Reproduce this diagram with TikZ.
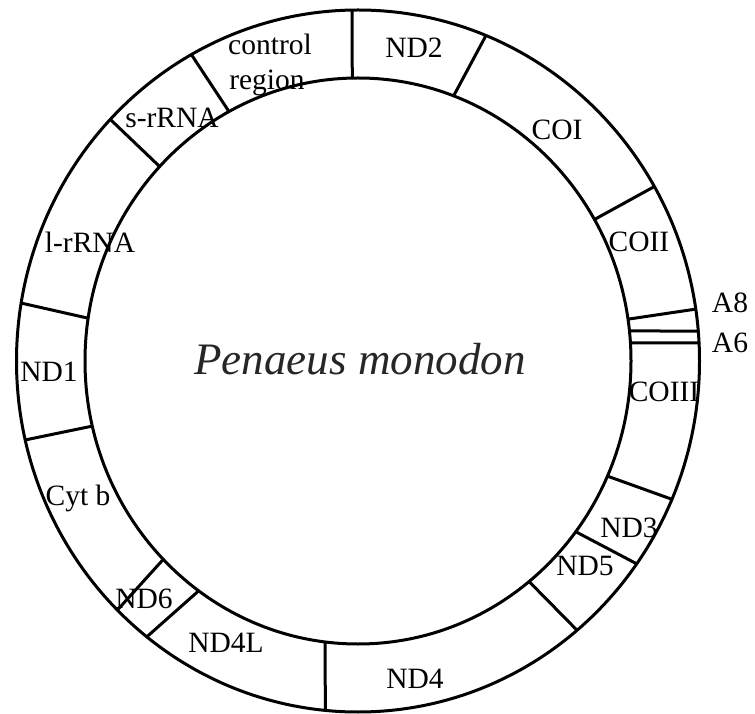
\documentclass[tikz,border=0pt]{standalone}
\usepackage{fontspec}
\setmainfont{Liberation Serif}
\usetikzlibrary{calc}
\begin{document}
\begin{tikzpicture}[x=1pt,y=1pt,
  ring/.style={line width=3pt, black},
  tick/.style={line width=3pt, black},
  lbl/.style={anchor=base, inner sep=0pt, font=\fontsize{29.5}{32}\selectfont},
  species/.style={anchor=base, inner sep=0pt, font=\fontsize{45}{50}\selectfont\itshape, text=black!85}
]
\useasboundingbox (0,0) rectangle (755,713);
\coordinate (c) at (358,352);
% rings
\draw[ring] (c) ellipse [x radius=341.5pt, y radius=351pt];
\draw[ring] (c) ellipse [x radius=273pt, y radius=283pt];
% boundaries: outer angle / inner angle
\foreach \name/\ao/\ai in {b1/91/91.2, b2/68/69.5, b3/29.8/30, b4/8.5/8.5,
  b5/4.9/6.09, b6/2.94/3.65, b7/-23.2/-24, b8/-35.3/-37.1, b9/-50.1/-51.2,
  b10/-95.5/-96.9, b11/-128.2/-125.7, b12/-134.8/-135.5, b13/-167/-166.7,
  b14/170.5/171.3, b15/136.5/136.6, b16/119.2/118.2}{
  \coordinate (\name o) at ($(c)+(\ao:341.5pt and 351pt)$);
  \coordinate (\name i) at ($(c)+(\ai:273pt and 283pt)$);
  \draw[tick] (\name o) -- (\name i);
}
% labels
\node[lbl] (control) at (270,{713-55}) {control};
\node[lbl] (region) at (267,{713-90}) {region};
\node[lbl] (nd2) at (414,{713-58}) {ND2};
\node[lbl] (coi) at (557,{713-140}) {COI};
\node[lbl] (coii) at (639,{713-252}) {COII};
\node[lbl] (a8) at (730,{713-313}) {A8};
\node[lbl] (a6) at (730,{713-353}) {A6};
\node[lbl] (coiii) at (664,{713-402}) {COIII};
\node[lbl] (nd3) at (629,{713-537}) {ND3};
\node[lbl] (nd5) at (585,{713-575}) {ND5};
\node[lbl] (nd4) at (415,{713-688}) {ND4};
\node[lbl] (nd4l) at (226,{713-652}) {ND4L};
\node[lbl] (nd6) at (144,{713-608}) {ND6};
\node[lbl] (cytb) at (78,{713-505}) {Cyt b};
\node[lbl] (nd1) at (49,{713-382}) {ND1};
\node[lbl] (lrrna) at (90,{713-253}) {l-rRNA};
\node[lbl] (srrna) at (172,{713-128}) {s-rRNA};
\node[species] (sp) at (360,{713-375}) {Penaeus monodon};
\end{tikzpicture}
\end{document}
